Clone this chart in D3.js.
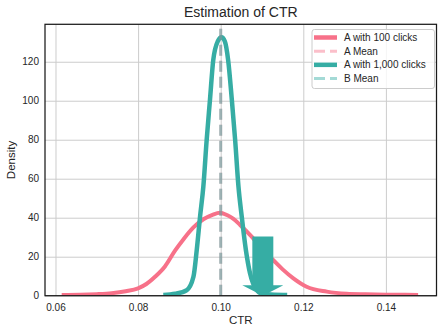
<!DOCTYPE html>
<html>
<head>
<meta charset="utf-8">
<script src="https://cdn.jsdelivr.net/npm/d3@7"></script>
<style>
  body { margin: 0; background: #fff; }
  text { font-family: "Liberation Sans", Arial, sans-serif; fill: #262626; }
</style>
</head>
<body>
<svg id="chart"></svg>
<script>
// values
const aCtr = [0.0615, 0.066, 0.070, 0.0736, 0.077, 0.080, 0.082, 0.0841, 0.0865, 0.0889, 0.091,
  0.0934, 0.0958, 0.098, 0.0998, 0.1015, 0.103, 0.1047, 0.1075, 0.110, 0.1127, 0.115, 0.1176,
  0.1208, 0.1257, 0.1305, 0.135, 0.140, 0.1478];
const aDensity = [0.4, 0.5, 0.8, 1.3, 2.3, 3.8, 6.0, 9.7, 15, 23, 29,
  35, 39.2, 41.5, 42.6, 41.4, 39.5, 36.3, 30.3, 24, 18.3, 13.5, 8.9,
  4.6, 2.1, 1.0, 0.7, 0.5, 0.4];

const bCtr = [0.0861, 0.089, 0.0918, 0.0934, 0.0942, 0.095, 0.0958, 0.0966, 0.0974, 0.0982, 0.0993,
  0.1002, 0.1010, 0.1018, 0.1027, 0.1035, 0.1043, 0.1051, 0.1061, 0.1071, 0.1087, 0.110, 0.113, 0.1161];
const bDensity = [0.4, 1.0, 2.9, 9.7, 23.4, 40.5, 56, 79.8, 100.4, 120.9, 130.5,
  132.5, 130.5, 120.9, 100.4, 79.8, 56, 40.5, 23.4, 11.5, 2.9, 1.0, 0.5, 0.4];

const aMean = 0.1;
const bMean = 0.1;

// arrow: centre ctr, top density, head start density, shaft / head half widths (ctr units)
const arrowCtr = 0.1102;
const arrowTop = 30.3;
const arrowHead = 5.3;
const arrowShaft = 0.00254;
const arrowHeadHalf = 0.00497;

const xTicks = [0.06, 0.08, 0.10, 0.12, 0.14];
const yTicks = [0, 20, 40, 60, 80, 100, 120];

const legendLabels = ['A with 100 clicks', 'A Mean', 'A with 1,000 clicks', 'B Mean'];

const pink = '#f77189';
const teal = '#36ada4';

const width = 442, height = 333;
const plotLeft = 45, plotRight = 436.5, plotTop = 24.3, plotBottom = 295.7;

const svg = d3.select('#chart')
  .attr('width', width)
  .attr('height', height);

svg.append('rect')
  .attr('width', width)
  .attr('height', height)
  .attr('fill', '#fff');

const x = d3.scaleLinear().domain([0.05746, 0.15225]).range([plotLeft, plotRight]);
const y = d3.scaleLinear().domain([0, 139.2]).range([plotBottom, plotTop]);

// grid
svg.append('g')
  .attr('transform', `translate(0,${plotBottom})`)
  .call(d3.axisBottom(x).tickValues(xTicks).tickSize(-(plotBottom - plotTop)).tickFormat(''))
  .call(g => g.select('.domain').remove())
  .call(g => g.selectAll('line').attr('stroke', '#cccccc').attr('stroke-width', 1));

svg.append('g')
  .attr('transform', `translate(${plotLeft},0)`)
  .call(d3.axisLeft(y).tickValues(yTicks).tickSize(-(plotRight - plotLeft)).tickFormat(''))
  .call(g => g.select('.domain').remove())
  .call(g => g.selectAll('line').attr('stroke', '#cccccc').attr('stroke-width', 1));

// tick labels
svg.append('g')
  .attr('transform', `translate(0,${plotBottom})`)
  .call(d3.axisBottom(x).tickValues(xTicks).tickSize(0).tickPadding(8).tickFormat(d3.format('.2f')))
  .call(g => g.select('.domain').remove())
  .call(g => g.selectAll('text').attr('font-size', 10).style('fill', '#262626')
    .attr('font-family', '"Liberation Sans", Arial, sans-serif'));

svg.append('g')
  .attr('transform', `translate(${plotLeft},0)`)
  .call(d3.axisLeft(y).tickValues(yTicks).tickSize(0).tickPadding(6))
  .call(g => g.select('.domain').remove())
  .call(g => g.selectAll('text').attr('font-size', 10).style('fill', '#262626')
    .attr('font-family', '"Liberation Sans", Arial, sans-serif'));

svg.append('clipPath').attr('id', 'plot')
  .append('rect')
  .attr('x', plotLeft).attr('y', plotTop)
  .attr('width', plotRight - plotLeft).attr('height', plotBottom - plotTop);

const plot = svg.append('g').attr('clip-path', 'url(#plot)');

const line = d3.line()
  .x(d => x(d[0]))
  .y(d => y(d[1]))
  .curve(d3.curveMonotoneX);

plot.append('path')
  .datum(d3.zip(aCtr, aDensity))
  .attr('d', line)
  .attr('fill', 'none')
  .attr('stroke', pink)
  .attr('stroke-width', 4)
  .attr('stroke-linejoin', 'round');

plot.append('path')
  .datum(d3.zip(bCtr, bDensity))
  .attr('d', line)
  .attr('fill', 'none')
  .attr('stroke', teal)
  .attr('stroke-width', 4.5)
  .attr('stroke-linejoin', 'round');

// mean lines, drawn from the bottom up
[[aMean, pink], [bMean, teal]].forEach(([m, c]) => {
  plot.append('line')
    .attr('x1', x(m)).attr('x2', x(m))
    .attr('y1', y(0)).attr('y2', y(139.2))
    .attr('stroke', c)
    .attr('stroke-opacity', 0.45)
    .attr('stroke-width', 3)
    .attr('stroke-dasharray', '11,5');
});

// arrow
const arrowPts = [
  [arrowCtr - arrowShaft, arrowTop],
  [arrowCtr + arrowShaft, arrowTop],
  [arrowCtr + arrowShaft, arrowHead],
  [arrowCtr + arrowHeadHalf, arrowHead],
  [arrowCtr, 0],
  [arrowCtr - arrowHeadHalf, arrowHead],
  [arrowCtr - arrowShaft, arrowHead]
];
svg.append('polygon')
  .attr('points', arrowPts.map(p => [x(p[0]), y(p[1])].join(',')).join(' '))
  .attr('fill', teal);

// spines
svg.append('rect')
  .attr('x', plotLeft).attr('y', plotTop)
  .attr('width', plotRight - plotLeft).attr('height', plotBottom - plotTop)
  .attr('fill', 'none')
  .attr('stroke', '#1a1a1a')
  .attr('stroke-width', 1.25);

// titles
svg.append('text')
  .attr('x', (plotLeft + plotRight) / 2).attr('y', 17)
  .attr('text-anchor', 'middle')
  .attr('font-size', 14)
  .text('Estimation of CTR');

svg.append('text')
  .attr('x', (plotLeft + plotRight) / 2).attr('y', 324)
  .attr('text-anchor', 'middle')
  .attr('font-size', 11.5)
  .text('CTR');

svg.append('text')
  .attr('transform', `translate(15,${(plotTop + plotBottom) / 2}) rotate(-90)`)
  .attr('text-anchor', 'middle')
  .attr('font-size', 11.5)
  .text('Density');

// legend
const legend = svg.append('g');
legend.append('rect')
  .attr('x', 312).attr('y', 29.5)
  .attr('width', 122.5).attr('height', 59)
  .attr('rx', 2.5)
  .attr('fill', '#fff').attr('fill-opacity', 0.8)
  .attr('stroke', '#cccccc').attr('stroke-width', 1);

const legendStyles = [
  { c: pink, o: 1, w: 4.5, dash: null },
  { c: pink, o: 0.45, w: 3, dash: '11,5' },
  { c: teal, o: 1, w: 4.5, dash: null },
  { c: teal, o: 0.45, w: 3, dash: '11,5' }
];
const rowY = d3.scaleLinear().domain([0, 3]).range([37.5, 78.5]);

legendLabels.forEach((label, i) => {
  const s = legendStyles[i];
  legend.append('line')
    .attr('x1', 314).attr('x2', 337)
    .attr('y1', rowY(i)).attr('y2', rowY(i))
    .attr('stroke', s.c)
    .attr('stroke-opacity', s.o)
    .attr('stroke-width', s.w)
    .attr('stroke-dasharray', s.dash);
  legend.append('text')
    .attr('x', 344).attr('y', rowY(i))
    .attr('dy', '0.35em')
    .attr('font-size', 10)
    .text(label);
});
</script>
</body>
</html>
